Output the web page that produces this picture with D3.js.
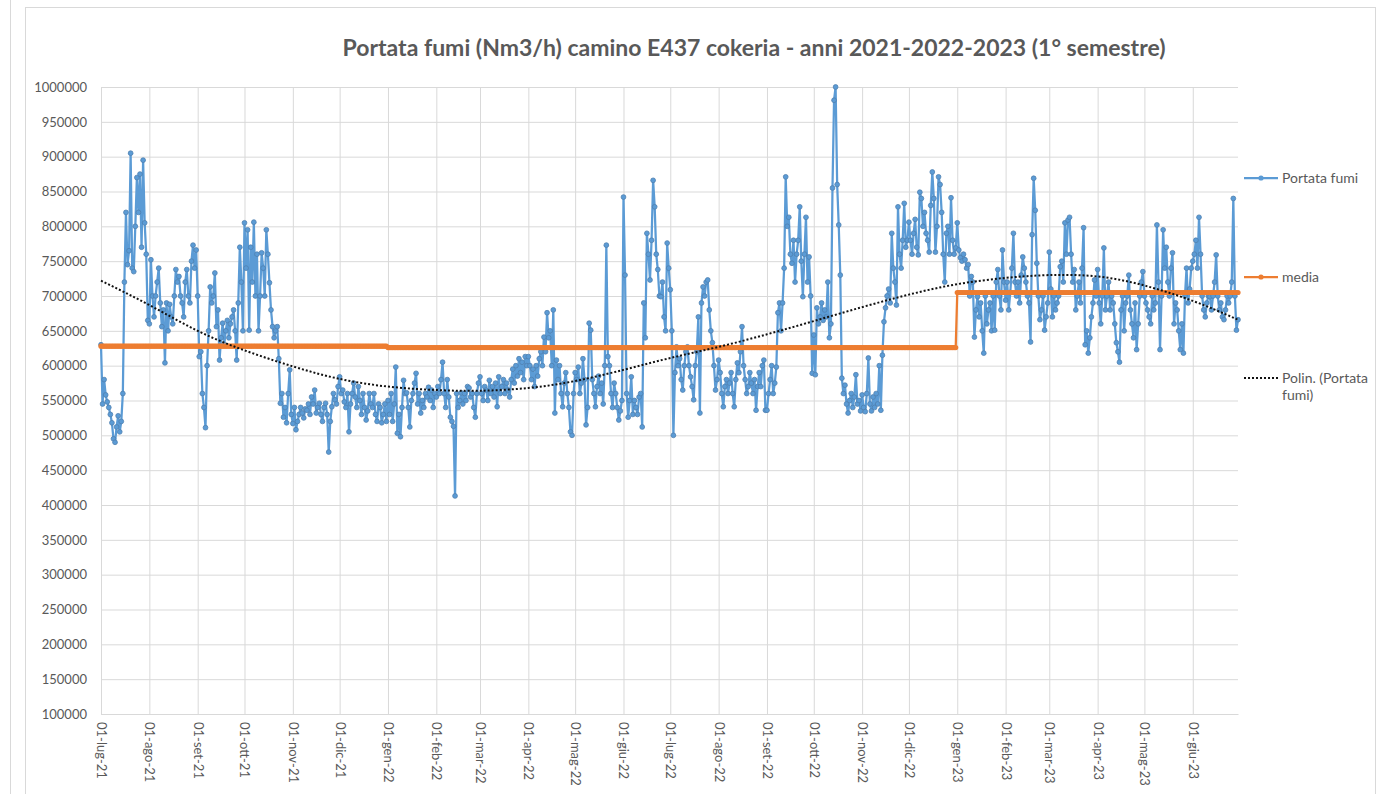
<!DOCTYPE html>
<html>
<head>
<meta charset="utf-8">
<script src="https://cdn.jsdelivr.net/npm/d3@7"></script>
<style>
  body { margin: 0; background: #fff; }
  text { font-family: Lato, "Open Sans", sans-serif; fill: #595959; }
</style>
</head>
<body>
<div id="chart"></div>
<script>
// portata fumi giornaliera (Nm3/h), dal 01-lug-21
const portata2021 = [
  630000,545000,580000,558000,548000,540000,530000,518000,495000,490000,512000,528000,505000,520000,560000,720000,820000,745000,765000,905000,740000,735000,800000,870000,820000,875000,770000,895000,805000,760000,665000, // lug
  660000,752000,700000,670000,700000,720000,740000,690000,656000,680000,604000,690000,650000,688000,670000,660000,700000,738000,720000,728000,700000,690000,670000,720000,738000,700000,690000,750000,773000,740000,766000, // ago
  700000,613000,620000,560000,540000,511000,600000,650000,713000,690000,700000,733000,656000,680000,608000,640000,661000,630000,650000,665000,640000,660000,670000,680000,650000,608000,690000,770000,720000,650000, // set
  805000,740000,795000,651000,770000,720000,806000,700000,760000,650000,700000,762000,740000,700000,795000,760000,719000,680000,656000,640000,650000,656000,610000,546000,560000,526000,540000,518000,560000,594000,530000, // ott
  517000,540000,508000,520000,530000,540000,532000,525000,538000,536000,545000,530000,555000,545000,565000,532000,540000,546000,530000,520000,540000,546000,530000,476000,520000,541000,560000,551000,545000,570000, // nov
  584000,560000,565000,548000,540000,560000,505000,545000,560000,575000,555000,540000,570000,550000,530000,560000,540000,522000,535000,560000,545000,540000,560000,530000,520000,545000,540000,518000,530000,545000,520000  // dic
];
const portata2022 = [
  550000,530000,560000,520000,545000,598000,503000,530000,498000,540000,579000,560000,561000,540000,512000,550000,560000,575000,589000,545000,560000,532000,550000,540000,560000,555000,569000,550000,565000,540000,560000, // gen
  555000,570000,560000,580000,605000,560000,540000,580000,555000,526000,520000,513000,413000,560000,540000,550000,561000,545000,560000,550000,570000,568000,555000,560000,540000,526000,560000,575000, // feb
  584000,560000,550000,570000,565000,550000,579000,560000,570000,555000,575000,541000,584000,560000,570000,580000,560000,575000,565000,555000,580000,595000,575000,600000,585000,610000,590000,605000,580000,613000,600000, // mar
  613000,600000,580000,595000,570000,600000,585000,610000,620000,600000,641000,620000,676000,640000,650000,600000,680000,532000,608000,580000,600000,560000,541000,575000,590000,560000,540000,505000,500000,560000, // apr
  590000,580000,598000,560000,575000,610000,580000,515000,540000,661000,651000,580000,560000,541000,570000,585000,560000,575000,545000,600000,773000,613000,600000,560000,540000,575000,560000,540000,522000,535000,550000, // mag
  842000,730000,560000,526000,550000,584000,530000,550000,540000,530000,555000,560000,512000,690000,640000,790000,760000,723000,780000,866000,828000,760000,738000,700000,699000,720000,670000,650000,776000,740000, // giu
  709000,650000,500000,590000,627000,600000,610000,580000,565000,600000,620000,627000,600000,584000,570000,551000,600000,620000,670000,532000,690000,713000,700000,720000,723000,680000,650000,633000,600000,565000,580000, // lug
  608000,590000,560000,541000,570000,580000,560000,575000,590000,560000,541000,580000,604000,590000,620000,656000,600000,580000,560000,570000,590000,575000,560000,580000,536000,570000,590000,570000,600000,608000,536000, // ago
  536000,560000,580000,600000,560000,575000,598000,676000,690000,650000,690000,740000,871000,800000,813000,760000,747000,780000,720000,760000,780000,828000,750000,699000,760000,813000,720000,756000,700000,589000, // set
  644000,587000,683000,660000,670000,690000,665000,680000,670000,720000,640000,660000,855000,981000,1000000,860000,802000,730000,582000,560000,572000,545000,532000,550000,560000,540000,555000,587000,545000,550000,535000, // ott
  558000,540000,534000,560000,611000,545000,535000,555000,540000,560000,545000,600000,536000,615000,663000,683000,700000,710000,690000,790000,740000,720000,687000,828000,760000,740000,780000,833000,770000,780000, // nov
  806000,780000,760000,790000,810000,770000,759000,849000,840000,800000,820000,790000,780000,763000,830000,878000,840000,763000,800000,871000,860000,820000,760000,720000,790000,800000,760000,841000,780000,760000,769000  // dic
];
const portata2023 = [
  805000,766000,755000,750000,760000,752000,740000,745000,700000,728000,720000,641000,680000,699000,670000,690000,650000,618000,700000,660000,680000,690000,650000,700000,651000,720000,738000,700000,680000,766000,720000, // gen
  694000,720000,680000,705000,740000,790000,720000,700000,720000,690000,730000,756000,740000,720000,700000,690000,634000,788000,869000,823000,747000,700000,666000,680000,700000,651000,670000,690000, // feb
  763000,710000,670000,700000,680000,690000,700000,742000,750000,720000,805000,760000,809000,813000,760000,720000,738000,680000,700000,720000,690000,740000,798000,630000,650000,618000,640000,670000,690000,723000,700000, // mar
  738000,690000,660000,700000,769000,680000,700000,720000,680000,700000,690000,660000,633000,620000,605000,680000,700000,650000,690000,700000,730000,680000,660000,640000,690000,623000,660000,700000,720000,735000, // apr
  700000,690000,680000,670000,660000,700000,680000,690000,802000,720000,623000,700000,795000,740000,770000,720000,700000,740000,762000,660000,690000,680000,650000,623000,660000,618000,700000,740000,690000,710000,740000, // mag
  750000,760000,780000,740000,813000,760000,700000,680000,670000,690000,700000,699000,680000,700000,720000,759000,700000,680000,690000,670000,666000,680000,700000,690000,700000,720000,840000,700000,651000,666000  // giu
];
// media annua (2021, 2022, 2023)
const mediaAnnua = [628000, 626000, 705000];
// linea di tendenza polinomiale letta al primo di ogni mese
const trendDate = ['2021-07-01','2021-08-01','2021-09-01','2021-10-01','2021-11-01','2021-12-01',
  '2022-01-01','2022-02-01','2022-03-01','2022-04-01','2022-05-01','2022-06-01','2022-07-01','2022-08-01',
  '2022-09-01','2022-10-01','2022-11-01','2022-12-01','2023-01-01','2023-02-01','2023-03-01','2023-04-01',
  '2023-05-01','2023-06-01','2023-06-30'];
const trendValori = [722000,687000,650000,622000,599000,581000,570000,565000,564000,568000,578000,594000,
  611000,627000,645000,664000,684000,702000,717000,726000,730000,728000,715000,693000,666000];
const mesi = ['gen','feb','mar','apr','mag','giu','lug','ago','set','ott','nov','dic'];
const yTicks = [100000,150000,200000,250000,300000,350000,400000,450000,500000,550000,600000,650000,
  700000,750000,800000,850000,900000,950000,1000000];
const titolo = 'Portata fumi (Nm3/h) camino E437 cokeria - anni 2021-2022-2023 (1° semestre)';
const nomiSerie = ['Portata fumi', 'media', ['Polin. (Portata', 'fumi)']];

const blu = '#5b9bd5', arancio = '#ed7d31';
var svgW = 1392, svgH = 794;
var pLeft = 101, pRight = 1238, pTop = 87, pBottom = 714;

var parse = d3.timeParse('%Y-%m-%d');
var inizio = new Date(2021, 6, 1);
var valori = portata2021.concat(portata2022, portata2023);
var dati = valori.map(function(v, i) {
  var d = d3.timeDay.offset(inizio, i);
  return { data: d, v: v, media: mediaAnnua[d.getFullYear() - 2021] };
});
var trend = trendDate.map(function(s, i) { return { data: parse(s), v: trendValori[i] }; });

var svg = d3.select('#chart').append('svg')
  .attr('width', svgW).attr('height', svgH);

// bordi
svg.append('line').attr('x1', 10.5).attr('x2', 10.5).attr('y1', 0).attr('y2', svgH)
  .attr('stroke', '#d9d9d9');
svg.append('rect').attr('x', 25.5).attr('y', 7.5).attr('width', 1350).attr('height', 800)
  .attr('fill', 'none').attr('stroke', '#d9d9d9');

svg.append('text')
  .attr('x', 754).attr('y', 56)
  .attr('text-anchor', 'middle')
  .style('font-size', '23px').style('font-weight', 'bold')
  .text(titolo);

var x = d3.scaleTime()
  .domain([inizio, dati[dati.length - 1].data])
  .range([pLeft, pRight]);
var y = d3.scaleLinear()
  .domain([100000, 1000000])
  .range([pBottom, pTop]);

// asse y + griglia
var yAxis = d3.axisLeft(y).tickValues(yTicks).tickSize(-(pRight - pLeft)).tickPadding(14)
  .tickFormat(d3.format('d'));
var gy = svg.append('g').attr('transform', 'translate(' + pLeft + ',0)').call(yAxis);
gy.select('.domain').remove();
gy.selectAll('line').attr('stroke', '#d9d9d9');
gy.selectAll('text').style('font-size', '13px').style('font-family', 'Lato, sans-serif').attr('fill', '#6a6a6a');

// asse x + griglia
var mesiTick = d3.timeMonth.range(inizio, d3.timeDay.offset(x.domain()[1], 1));
var xAxis = d3.axisBottom(x).tickValues(mesiTick).tickSize(-(pBottom - pTop)).tickSizeOuter(0)
  .tickFormat(function(d) {
    return '01-' + mesi[d.getMonth()] + '-' + String(d.getFullYear()).slice(2);
  });
var gx = svg.append('g').attr('transform', 'translate(0,' + pBottom + ')').call(xAxis);
gx.select('.domain').attr('stroke', '#d9d9d9');
gx.selectAll('line').attr('stroke', '#d9d9d9');
gx.selectAll('text')
  .style('font-size', '13px').style('font-family', 'Lato, sans-serif').attr('fill', '#6a6a6a')
  .attr('text-anchor', 'start')
  .attr('transform', 'translate(0,8) rotate(90)')
  .attr('x', 0).attr('y', 0).attr('dy', '0.35em');

// serie portata
var linea = d3.line().x(function(d) { return x(d.data); }).y(function(d) { return y(d.v); });
svg.append('path').datum(dati)
  .attr('d', linea)
  .attr('fill', 'none').attr('stroke', blu).attr('stroke-width', 2.25)
  .attr('stroke-linejoin', 'round');
svg.append('g').selectAll('circle').data(dati).enter().append('circle')
  .attr('cx', function(d) { return x(d.data); })
  .attr('cy', function(d) { return y(d.v); })
  .attr('r', 2.4)
  .attr('fill', blu).attr('stroke', '#4f80b0').attr('stroke-width', 0.8);

// media
var lineaMedia = d3.line().x(function(d) { return x(d.data); }).y(function(d) { return y(d.media); });
svg.append('path').datum(dati)
  .attr('d', lineaMedia)
  .attr('fill', 'none').attr('stroke', arancio).attr('stroke-width', 2.25);
svg.append('g').selectAll('circle').data(dati).enter().append('circle')
  .attr('cx', function(d) { return x(d.data); })
  .attr('cy', function(d) { return y(d.media); })
  .attr('r', 2.6)
  .attr('fill', arancio);

// tendenza polinomiale
var lineaTrend = d3.line().curve(d3.curveNatural)
  .x(function(d) { return x(d.data); }).y(function(d) { return y(d.v); });
svg.append('path').datum(trend)
  .attr('d', lineaTrend)
  .attr('fill', 'none').attr('stroke', '#111').attr('stroke-width', 2)
  .attr('stroke-dasharray', '2,2');

// legenda
var legY = [178, 277, 378];
var leg = svg.append('g');
[blu, arancio].forEach(function(c, i) {
  leg.append('line').attr('x1', 1244).attr('x2', 1278).attr('y1', legY[i]).attr('y2', legY[i])
    .attr('stroke', c).attr('stroke-width', 2.25);
  leg.append('circle').attr('cx', 1261).attr('cy', legY[i]).attr('r', 2.6).attr('fill', c);
});
leg.append('line').attr('x1', 1244).attr('x2', 1278).attr('y1', legY[2]).attr('y2', legY[2])
  .attr('stroke', '#111').attr('stroke-width', 2).attr('stroke-dasharray', '2,2');
nomiSerie.forEach(function(n, i) {
  var t = leg.append('text').attr('x', 1282).attr('y', legY[i])
    .style('font-size', '14px').attr('fill', '#6a6a6a');
  if (Array.isArray(n)) {
    n.forEach(function(r, j) {
      t.append('tspan').attr('x', 1282).attr('dy', j == 0 ? '0.35em' : '1.25em').text(r);
    });
  } else {
    t.attr('dy', '0.35em').text(n);
  }
});
</script>
</body>
</html>
